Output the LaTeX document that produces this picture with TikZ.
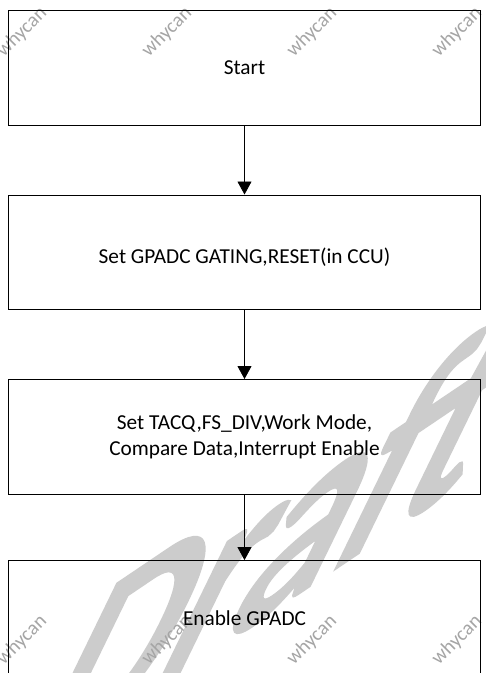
\documentclass[tikz,border=0pt]{standalone}
\usepackage{fontspec}
\setmainfont{Carlito}
\newfontfamily\draftfont[FakeBold=3.5]{Carlito}
\usetikzlibrary{positioning,arrows.meta}
\definecolor{markgray}{RGB}{165,165,165}
\definecolor{draftgray}{RGB}{204,204,204}
\begin{document}
\begin{tikzpicture}[x=1pt,y=-1pt,
    stepbox/.style={draw=black,line width=1pt,minimum width=472pt,minimum height=114.5pt,
      inner sep=0pt,align=center,font=\fontsize{21.3}{26.7}\selectfont},
    flow/.style={-{Triangle[length=13pt,width=14pt]},line width=0.8pt},
    node distance=69pt]
  % page 486 x 673, white ground
  \useasboundingbox (0,0) rectangle (486,673);
  \fill[white] (0,0) rectangle (486,673);
  \clip (0,0) rectangle (486,673);
  % big slanted watermark
  \node[text=draftgray,font=\draftfont\fontsize{265}{265}\selectfont,inner sep=0pt,anchor=base west,
    cm={0.829,0.559,0.545,1.12,(0,0)}] (draft) at (10,786) {Draft};
  % small marks, top row and bottom row
  \foreach \y in {32,640} {
    \foreach \x in {22,167,312,457} {
      \node[text=markgray,font=\fontsize{20}{20}\selectfont,rotate=45] (mark\x\y) at (\x,\y) {whycan};
    }
  }
  % the four steps
  \node[stepbox,anchor=north west] (start) at (8,10) {Start};
  \node[stepbox,below=of start,text height=22.6pt,text depth=0pt] (gating) {Set GPADC GATING,RESET(in CCU)};
  \node[stepbox,below=of gating] (config) {Set TACQ,FS\_DIV,Work Mode,\\Compare Data,Interrupt Enable};
  \node[stepbox,below=65.6pt of config] (enable) {Enable GPADC};
  % arrows
  \draw[flow] (start) -- (gating);
  \draw[flow] (gating) -- (config);
  \draw[flow] (config) -- (enable);
\end{tikzpicture}
\end{document}
